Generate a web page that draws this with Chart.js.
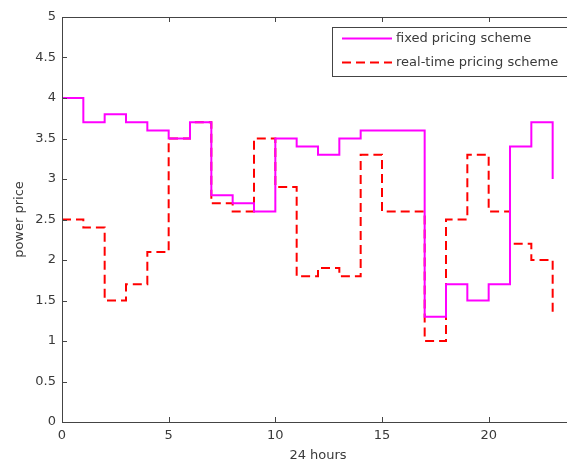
<!DOCTYPE html>
<html>
<head>
<meta charset="utf-8">
<script src="https://cdn.jsdelivr.net/npm/chart.js@4"></script>
<style>
  html, body { margin: 0; padding: 0; background: #fff; overflow: hidden; }
  #wrap { width: 600px; height: 465px; }
</style>
</head>
<body>
<div id="wrap"><canvas id="priceChart" width="600" height="465"></canvas></div>
<script>
/* two stair-step price curves over 24 hours */

const hours = [0, 1, 2, 3, 4, 5, 6, 7, 8, 9, 10, 11, 12, 13, 14, 15, 16, 17, 18, 19, 20, 21, 22, 23];
const fixedPrice = [4.0, 3.7, 3.8, 3.7, 3.6, 3.5, 3.7, 2.8, 2.7, 2.6, 3.5, 3.4, 3.3, 3.5, 3.6, 3.6, 3.6, 1.3, 1.7, 1.5, 1.7, 3.4, 3.7, 3.0];
const realtimePrice = [2.5, 2.4, 1.5, 1.7, 2.1, 3.5, 3.7, 2.7, 2.6, 3.5, 2.9, 1.8, 1.9, 1.8, 3.3, 2.6, 2.6, 1.0, 2.5, 3.3, 2.6, 2.2, 2.0, 1.3];
const xTicks = [0, 5, 10, 15, 20];
const yTicks = [0, 0.5, 1, 1.5, 2, 2.5, 3, 3.5, 4, 4.5, 5];

const FONT = { family: 'DejaVu Sans', size: 13 };
const AXIS = '#444';
const TXT = '#3a3a3a';

const pts = (ys) => hours.map((h, i) => ({ x: h, y: ys[i] }));

// matlab-style box with inward ticks
const framePlugin = {
  id: 'frame',
  afterDraw(chart) {
    const { ctx, chartArea: a, scales: { x, y } } = chart;
    ctx.save();
    ctx.strokeStyle = AXIS;
    ctx.lineWidth = 1;
    ctx.strokeRect(a.left + 0.5, a.top + 0.5, a.right - a.left, a.bottom - a.top);
    ctx.beginPath();
    xTicks.forEach((v) => {
      const px = Math.round(x.getPixelForValue(v)) + 0.5;
      ctx.moveTo(px, a.bottom); ctx.lineTo(px, a.bottom - 5);
      ctx.moveTo(px, a.top); ctx.lineTo(px, a.top + 5);
    });
    yTicks.forEach((v) => {
      const py = Math.round(y.getPixelForValue(v)) + 0.5;
      ctx.moveTo(a.left, py); ctx.lineTo(a.left + 5, py);
      ctx.moveTo(a.right, py); ctx.lineTo(a.right - 5, py);
    });
    ctx.stroke();
    ctx.restore();
  },
};

// legend box in the top right corner
const legendPlugin = {
  id: 'boxLegend',
  afterDraw(chart) {
    const { ctx } = chart;
    const sets = chart.data.datasets;
    ctx.save();
    ctx.fillStyle = '#fff';
    ctx.fillRect(332, 27, 260, 49);
    ctx.strokeStyle = AXIS;
    ctx.lineWidth = 1;
    ctx.strokeRect(332.5, 27.5, 260, 49);
    ctx.font = `${FONT.size}px ${FONT.family}`;
    ctx.textBaseline = 'middle';
    sets.forEach((ds, i) => {
      const yy = 38.5 + i * 24;
      ctx.strokeStyle = ds.borderColor;
      ctx.lineWidth = ds.borderWidth;
      ctx.setLineDash(ds.borderDash || []);
      ctx.beginPath();
      ctx.moveTo(342, yy); ctx.lineTo(392, yy);
      ctx.stroke();
      ctx.setLineDash([]);
      ctx.fillStyle = TXT;
      ctx.fillText(ds.label, 396, yy);
    });
    ctx.restore();
  },
};

new Chart(document.getElementById('priceChart'), {
  type: 'line',
  data: {
    datasets: [
      { label: 'fixed pricing scheme', data: pts(fixedPrice), borderColor: '#ff00ff', borderWidth: 2, stepped: true, pointRadius: 0, fill: false },
      { label: 'real-time pricing scheme', data: pts(realtimePrice), borderColor: '#ff0000', borderWidth: 2, borderDash: [9, 5], stepped: true, pointRadius: 0, fill: false },
    ],
  },
  options: {
    responsive: false,
    animation: false,
    layout: { padding: { top: 17, right: 26, left: 0, bottom: 0 } },
    plugins: { legend: { display: false }, tooltip: { enabled: false } },
    scales: {
      x: {
        type: 'linear', min: 0, max: 24,
        afterFit: (s) => { s.height = 43; },
        afterBuildTicks: (s) => { s.ticks = xTicks.map((v) => ({ value: v })); },
        grid: { display: false, drawTicks: false },
        border: { display: false },
        ticks: { color: TXT, font: FONT, padding: 6, maxRotation: 0, callback: (v) => String(v) },
        title: { display: true, text: '24 hours', color: TXT, font: FONT, padding: { top: 0, bottom: 2 } },
      },
      y: {
        type: 'linear', min: 0, max: 5,
        afterFit: (s) => { s.width = 62; },
        afterBuildTicks: (s) => { s.ticks = yTicks.map((v) => ({ value: v })); },
        grid: { display: false, drawTicks: false },
        border: { display: false },
        ticks: { color: TXT, font: FONT, padding: 6, callback: (v) => String(v) },
        title: { display: true, text: 'power price', color: TXT, font: FONT, padding: { top: 12, bottom: 0 } },
      },
    },
  },
  plugins: [framePlugin, legendPlugin],
});
</script>
</body>
</html>
